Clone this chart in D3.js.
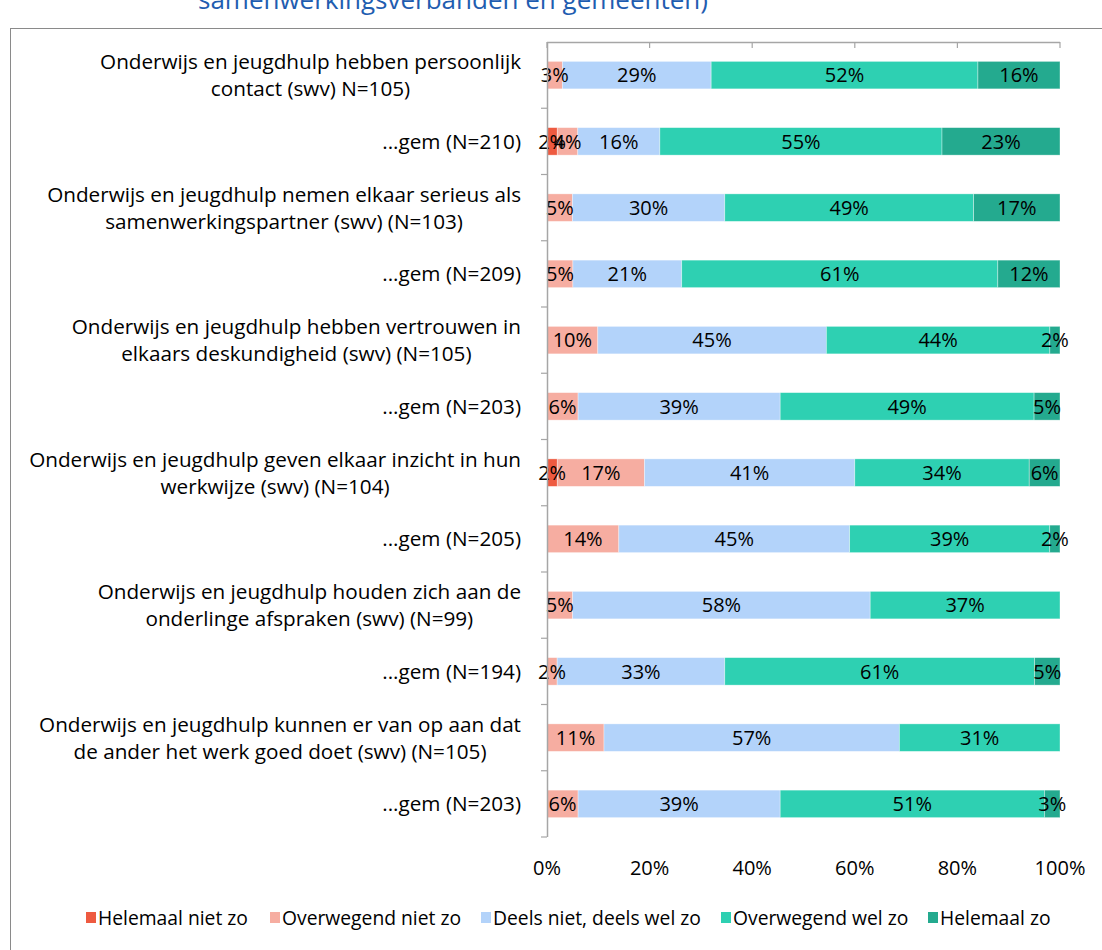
<!DOCTYPE html>
<html>
<head>
<meta charset="utf-8">
<script src="https://d3js.org/d3.v7.min.js"></script>
<style>
  body { margin: 0; background: #fff; font-family: "Open Sans", Lato, sans-serif; }
  svg text { fill: #000; }
</style>
</head>
<body>
<div id="chart"></div>
<script>
// categories (top to bottom)
var categories = [
  ["Onderwijs en jeugdhulp hebben persoonlijk", "contact (swv) N=105)"],
  ["...gem (N=210)"],
  ["Onderwijs en jeugdhulp nemen elkaar serieus als", "samenwerkingspartner (swv) (N=103)"],
  ["...gem (N=209)"],
  ["Onderwijs en jeugdhulp hebben vertrouwen in", "elkaars deskundigheid (swv) (N=105)"],
  ["...gem (N=203)"],
  ["Onderwijs en jeugdhulp geven elkaar inzicht in hun", "werkwijze (swv) (N=104)"],
  ["...gem (N=205)"],
  ["Onderwijs en jeugdhulp houden zich aan de", "onderlinge afspraken (swv) (N=99)"],
  ["...gem (N=194)"],
  ["Onderwijs en jeugdhulp kunnen er van op aan dat", "de ander het werk goed doet (swv) (N=105)"],
  ["...gem (N=203)"]
];

var seriesNames = ["Helemaal niet zo", "Overwegend niet zo", "Deels niet, deels wel zo", "Overwegend wel zo", "Helemaal zo"];
var seriesColors = ["#EE5A40", "#F6ADA1", "#B3D3FA", "#2ED0B2", "#24AA8F"];

// percentages per series, one value per category
var helemaalNiet   = [0, 2, 0, 0, 0, 0, 2, 0, 0, 0, 0, 0];
var overwegendNiet = [3, 4, 5, 5, 10, 6, 17, 14, 5, 2, 11, 6];
var deels          = [29, 16, 30, 21, 45, 39, 41, 45, 58, 33, 57, 39];
var overwegendWel  = [52, 55, 49, 61, 44, 49, 34, 39, 37, 61, 31, 51];
var helemaalWel    = [16, 23, 17, 12, 2, 5, 6, 2, 0, 5, 0, 3];

var tickValues = [0, 0.2, 0.4, 0.6, 0.8, 1];

var series = [helemaalNiet, overwegendNiet, deels, overwegendWel, helemaalWel];

var W = 1102, H = 950;
var svg = d3.select("#chart").append("svg").attr("width", W).attr("height", H);

// title remnant cut off at the top
svg.append("text")
  .attr("x", 198).attr("y", 9)
  .style("font-size", "26px")
  .style("fill", "#1F5DB0")
  .text("samenwerkingsverbanden en gemeenten)");

// chart border
svg.append("rect")
  .attr("x", 10.5).attr("y", 28.5)
  .attr("width", 1200).attr("height", 1000)
  .attr("fill", "none").attr("stroke", "#8a8a8a");

var x = d3.scaleLinear().domain([0, 1]).range([547, 1060]);
var y = d3.scaleBand().domain(d3.range(categories.length)).range([42, 837])
  .paddingInner(0.585).paddingOuter(0.2925);

// stacked data (100% stacked)
var rows = categories.map(function(c, i) {
  var vals = series.map(function(s) { return s[i]; });
  var total = d3.sum(vals);
  var acc = 0;
  return vals.map(function(v, k) {
    var seg = { row: i, k: k, v: v, x0: acc / total, x1: (acc + v) / total };
    acc += v;
    return seg;
  });
});

var g = svg.append("g");
rows.forEach(function(segs) {
  segs.filter(function(s) { return s.v > 0; }).forEach(function(s) {
    g.append("rect")
      .attr("x", x(s.x0))
      .attr("y", y(s.row))
      .attr("width", x(s.x1) - x(s.x0))
      .attr("height", y.bandwidth())
      .attr("fill", seriesColors[s.k])
      .attr("stroke", "#ffffff")
      .attr("stroke-opacity", 0.5)
      .attr("stroke-width", 0.7);
  });
});

// value labels
rows.forEach(function(segs) {
  segs.filter(function(s) { return s.v > 0; }).forEach(function(s) {
    g.append("text")
      .attr("x", (x(s.x0) + x(s.x1)) / 2)
      .attr("y", y(s.row) + y.bandwidth() / 2)
      .attr("dy", "0.36em")
      .attr("text-anchor", "middle")
      .style("font-size", "20px")
      .text(s.v + "%");
  });
});

// top line with ticks
var axisColor = "#a6a6a6";
svg.append("line")
  .attr("x1", x(0)).attr("x2", x(1)).attr("y1", 42.5).attr("y2", 42.5)
  .attr("stroke", axisColor).attr("stroke-width", 1.5);
svg.selectAll(".toptick").data(tickValues).enter().append("line")
  .attr("x1", function(d) { return x(d); }).attr("x2", function(d) { return x(d); })
  .attr("y1", 42).attr("y2", 48)
  .attr("stroke", axisColor).attr("stroke-width", 1.2);

// vertical category axis
svg.append("line")
  .attr("x1", 547.5).attr("x2", 547.5).attr("y1", 42).attr("y2", 837)
  .attr("stroke", axisColor).attr("stroke-width", 1.5);
var bounds = d3.range(categories.length + 1).map(function(i) { return 42 + i * (837 - 42) / categories.length; });
svg.selectAll(".ytick").data(bounds.slice(1)).enter().append("line")
  .attr("x1", 541).attr("x2", 547)
  .attr("y1", function(d) { return d; }).attr("y2", function(d) { return d; })
  .attr("stroke", axisColor).attr("stroke-width", 1.2);

// x tick labels
svg.selectAll(".xlab").data(tickValues).enter().append("text")
  .attr("x", function(d) { return x(d); })
  .attr("y", 875)
  .attr("text-anchor", "middle")
  .style("font-size", "20px")
  .text(function(d) { return d3.format(".0%")(d); });

// category labels
var labelRight = 521;
categories.forEach(function(lines, i) {
  var cy = y(i) + y.bandwidth() / 2;
  var t = svg.append("text").style("font-size", "20.7px");
  var lh = 27;
  lines.forEach(function(line, j) {
    t.append("tspan").attr("x", 0)
      .attr("y", cy + (j - (lines.length - 1) / 2) * lh)
      .attr("dy", "0.36em")
      .text(line);
  });
  if (lines.length === 1) {
    t.attr("text-anchor", "end").selectAll("tspan").attr("x", labelRight);
  } else {
    var maxW = d3.max(t.selectAll("tspan").nodes(), function(n) { return n.getComputedTextLength(); });
    t.attr("text-anchor", "middle").selectAll("tspan").attr("x", labelRight - maxW / 2);
  }
});

// legend
var legendX = [86, 270, 481, 721, 928];
var legend = svg.selectAll(".leg").data(seriesNames).enter().append("g")
  .attr("transform", function(d, i) { return "translate(" + legendX[i] + ",918)"; });
legend.append("rect")
  .attr("x", 0).attr("y", -6).attr("width", 10).attr("height", 11)
  .attr("fill", function(d, i) { return seriesColors[i]; });
legend.append("text")
  .attr("x", 12).attr("y", 0).attr("dy", "0.36em")
  .style("font-size", "19.3px")
  .text(function(d) { return d; });
</script>
</body>
</html>
